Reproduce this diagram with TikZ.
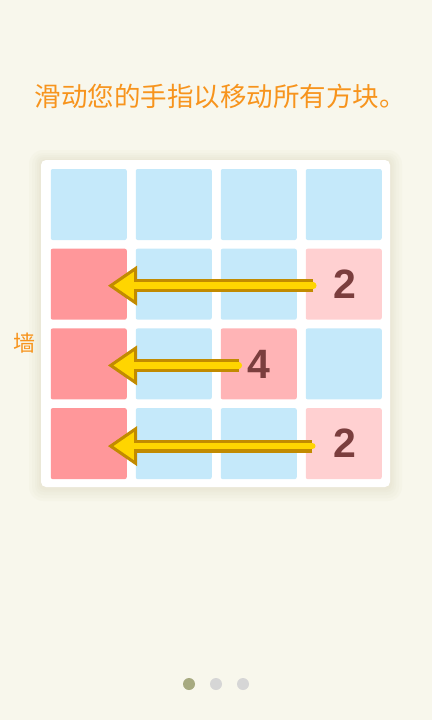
\documentclass[tikz,border=0pt]{standalone}
\usepackage{fontspec}
\usepackage{xcolor}
\usepackage{tikz}
\usetikzlibrary{arrows.meta}

\newfontfamily\cjkfont{Noto Sans CJK SC}
\newfontfamily\digitfont{Liberation Sans}

\definecolor{bgcream}{HTML}{F8F7EC}
\definecolor{shadowtan}{HTML}{C9C39A}
\definecolor{tileblue}{HTML}{C5E9FA}
\definecolor{wallred}{HTML}{FF979A}
\definecolor{twopink}{HTML}{FFD0D1}
\definecolor{fourpink}{HTML}{FFB4B6}
\definecolor{numbrown}{HTML}{7B3E3E}
\definecolor{hintorange}{HTML}{F7941D}
\definecolor{arrowgold}{HTML}{FFD500}
\definecolor{arrowedge}{HTML}{C28B00}
\definecolor{dotactive}{HTML}{A7AA80}
\definecolor{dotidle}{HTML}{D6D6D6}

\begin{document}
\begin{tikzpicture}[x=1pt,y=-1pt,node distance=85pt,
  tile/.style={rectangle, rounded corners=2pt, fill=tileblue, minimum width=76pt, minimum height=71pt, inner sep=0pt, text=numbrown, font=\digitfont\bfseries\fontsize{41}{41}\selectfont},
  walltile/.style={tile, fill=wallred},
  twotile/.style={tile, fill=twopink},
  fourtile/.style={tile, fill=fourpink},
  hint/.style={text=hintorange, inner sep=0pt, font=\cjkfont\fontsize{26.5}{30}\selectfont},
  glow/.style={fill=shadowtan, fill opacity=0.05},
  pagedot/.style={circle, minimum size=12pt, inner sep=0pt, fill=dotidle},
  pusharrow/.style={draw=arrowgold, line width=6.6pt, line cap=round, shorten >=5.6pt,
    -{Triangle[width=27.8pt, length=20.2pt, line width=0pt]},
    preaction={draw=arrowedge, line width=13pt, shorten >=0pt, -{Triangle[width=40pt, length=29pt, line width=0pt]}}}]

\useasboundingbox (0,0) rectangle (432,720);
\fill[bgcream] (0,0) rectangle (432,720);

\node[hint] (title) at (220,96.5) {滑动您的手指以移动所有方块。};

% board with soft shadow
\fill[glow, rounded corners=14pt] (29,150) rectangle (402,501);
\fill[glow, rounded corners=11pt] (32,153) rectangle (399,498);
\fill[glow, rounded corners=9pt] (35,155) rectangle (396,495);
\fill[glow, rounded corners=7pt] (37,157) rectangle (394,492);
\fill[glow, rounded corners=6pt] (39,159) rectangle (392,490);
\fill[white, rounded corners=5pt] (41,160) rectangle (390,487);

\node[tile] (T11) at (88.75,204.5) {};
\node[tile] (T12) [right of=T11] {};
\node[tile] (T13) [right of=T12] {};
\node[tile] (T14) [right of=T13] {};

\node[walltile] (T21) [node distance=79.7pt, below of=T11] {};
\node[tile] (T22) [right of=T21] {};
\node[tile] (T23) [right of=T22] {};
\node[twotile] (T24) [right of=T23] {\hspace{3pt}2};

\node[walltile] (T31) [node distance=79.7pt, below of=T21] {};
\node[tile] (T32) [right of=T31] {};
\node[fourtile] (T33) [right of=T32] {\hspace{1pt}4};
\node[tile] (T34) [right of=T33] {};

\node[walltile] (T41) [node distance=79.7pt, below of=T31] {};
\node[tile] (T42) [right of=T41] {};
\node[tile] (T43) [right of=T42] {};
\node[twotile] (T44) [right of=T43] {\hspace{3pt}2};

\node[hint, font=\cjkfont\fontsize{22}{26}\selectfont] (wall) at (24,343) {墙};

% moves
\draw[pusharrow] ([xshift=-30.5pt,yshift=-1.5pt]T24.center) -- ([xshift=19.25pt,yshift=-1.5pt]T21.center);
\draw[pusharrow] ([xshift=-20pt,yshift=-1.5pt]T33.center) -- ([xshift=19.25pt,yshift=-1.5pt]T31.center);
\draw[pusharrow] ([xshift=-31.5pt,yshift=-2.5pt]T44.center) -- ([xshift=19.25pt,yshift=-2.5pt]T41.center);

\node[pagedot, fill=dotactive] (page1) at (189,684) {};
\node[pagedot] (page2) [node distance=27pt, right of=page1] {};
\node[pagedot] (page3) [node distance=27pt, right of=page2] {};

\end{tikzpicture}
\end{document}
